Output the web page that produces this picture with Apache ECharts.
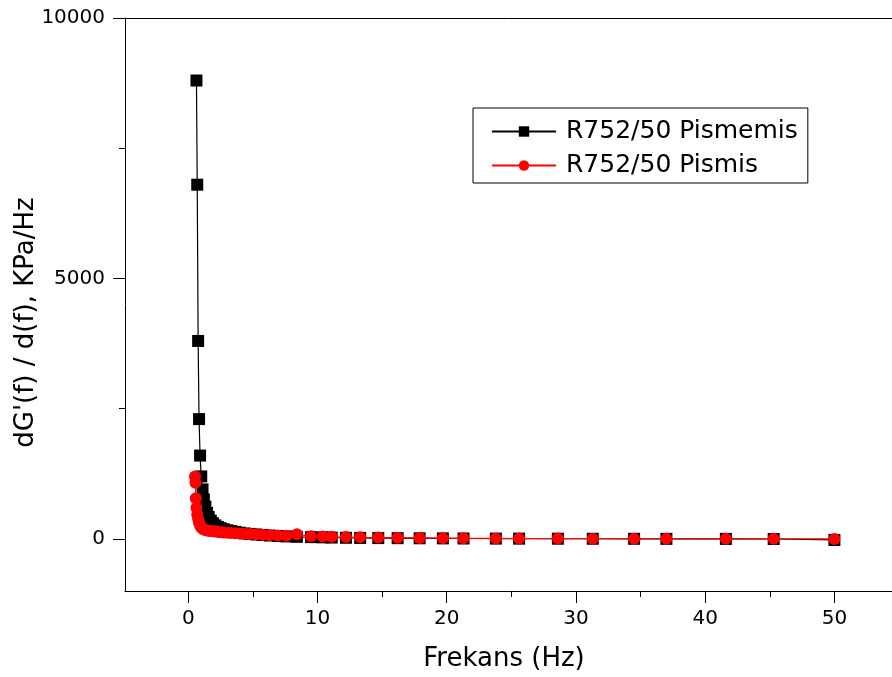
<!DOCTYPE html>
<html>
<head>
<meta charset="utf-8">
<script src="https://cdn.jsdelivr.net/npm/echarts@6/dist/echarts.min.js"></script>
<style>html,body{margin:0;padding:0;background:#fff}#c{width:892px;height:677px}</style>
</head>
<body>
<div id="c"></div>
<script>
// Frequencies (Hz) and dG'(f)/d(f) values
const freqPismemis = [0.63, 0.69, 0.76, 0.83, 0.91, 1.0, 1.1, 1.2, 1.32, 1.45, 1.58, 1.74, 1.91, 2.09, 2.29, 2.51, 2.75, 3.02, 3.31, 3.63, 3.98, 4.37, 4.79, 5.25, 5.75, 6.31, 6.92, 7.59, 8.4, 9.5, 10.4, 11.1, 12.2, 13.3, 14.7, 16.2, 17.9, 19.7, 21.3, 23.8, 25.6, 28.6, 31.3, 34.5, 37.0, 41.6, 45.3, 50.0];
const valPismemis = [8800, 6800, 3800, 2300, 1600, 1200, 950, 760, 620, 500, 420, 350, 300, 260, 230, 205, 185, 165, 150, 135, 120, 105, 95, 85, 75, 65, 55, 48, 40, 34, 30, 26, 22, 19, 16, 14, 12, 10, 8, 6, 5, 4, 3, 2, 1, 0, -2, -20];
const freqPismis = [0.52, 0.55, 0.58, 0.63, 0.69, 0.76, 0.83, 0.91, 1.0, 1.1, 1.2, 1.32, 1.45, 1.58, 1.74, 1.91, 2.09, 2.29, 2.51, 2.75, 3.02, 3.31, 3.63, 3.98, 4.37, 4.79, 5.25, 5.75, 6.31, 6.92, 7.59, 8.4, 9.5, 10.4, 11.1, 12.2, 13.3, 14.7, 16.2, 17.9, 19.7, 21.3, 23.8, 25.6, 28.6, 31.3, 34.5, 37.0, 41.6, 45.3, 50.0];
const valPismis = [1200, 1080, 780, 600, 470, 380, 310, 260, 220, 195, 180, 170, 160, 155, 150, 145, 140, 135, 130, 125, 120, 115, 110, 105, 100, 95, 88, 80, 72, 66, 60, 90, 50, 45, 40, 35, 30, 26, 22, 18, 15, 12, 10, 8, 6, 5, 4, 3, 2, 1, 0];
const xMajorTicks = [0, 10, 20, 30, 40, 50];
const xMinorTicks = [5, 15, 25, 35, 45];
const yMajorTicks = [0, 5000, 10000];
const yMinorTicks = [2500, 7500];
const seriesNames = ['R752/50 Pismemis', 'R752/50 Pismis'];

const FONT = 'DejaVu Sans';
const X_MIN = -4.9, X_MAX = 55, Y_MIN = -1000, Y_MAX = 10000;

function pairs(xs, ys) { return xs.map((x, i) => [x, ys[i]]); }
const plain = v => String(v);

const chart = echarts.init(document.getElementById('c'), null, { renderer: 'canvas' });
chart.setOption({
  animation: false,
  backgroundColor: '#fff',
  grid: { left: 125, right: -7, top: 18, bottom: 86, show: false, containLabel: false, outerBoundsMode: 'none' },
  legend: {
    orient: 'vertical', left: 473, top: 108,
    padding: [11, 10, 5, 18], itemGap: 9,
    borderColor: '#000', borderWidth: 1,
    itemWidth: 64, itemHeight: 13,
    textStyle: { fontFamily: FONT, fontSize: 25, color: '#000', padding: [0, 0, 0, 5] },
    data: seriesNames
  },
  xAxis: [
    {
      type: 'value', min: X_MIN, max: X_MAX, position: 'bottom',
      name: 'Frekans (Hz)', nameLocation: 'middle', nameGap: 55,
      nameTextStyle: { fontFamily: FONT, fontSize: 26, color: '#000', padding: [0, 16, 0, 0] },
      axisLine: { show: true, onZero: false, lineStyle: { color: '#000', width: 1 } },
      axisTick: { show: true, inside: false, length: 12, customValues: xMajorTicks, lineStyle: { color: '#000', width: 1 } },
      axisLabel: { fontFamily: FONT, color: '#000', fontSize: 20, margin: 18, customValues: xMajorTicks, formatter: plain },
      splitLine: { show: false }
    },
    {
      type: 'value', min: X_MIN, max: X_MAX, position: 'bottom', offset: 0,
      axisLine: { show: false, onZero: false },
      axisTick: { show: true, inside: false, length: 6, customValues: xMinorTicks, lineStyle: { color: '#000', width: 1 } },
      axisLabel: { show: false },
      splitLine: { show: false }
    },
    {
      type: 'value', min: X_MIN, max: X_MAX, position: 'top', offset: 0,
      axisLine: { show: true, onZero: false, lineStyle: { color: '#000', width: 1 } },
      axisTick: { show: false },
      axisLabel: { show: false },
      splitLine: { show: false }
    }
  ],
  yAxis: [
    {
      type: 'value', min: Y_MIN, max: Y_MAX, position: 'left',
      name: "dG'(f) / d(f), KPa/Hz", nameLocation: 'middle', nameGap: 86, nameRotate: 90,
      nameMoveOverlap: false,
      nameTextStyle: { fontFamily: FONT, fontSize: 26, color: '#000', padding: [0, 36, 0, 0] },
      axisLine: { show: true, onZero: false, lineStyle: { color: '#000', width: 1 } },
      axisTick: { show: true, inside: false, length: 12, customValues: yMajorTicks, lineStyle: { color: '#000', width: 1 } },
      axisLabel: { fontFamily: FONT, color: '#000', fontSize: 20, margin: 20, customValues: yMajorTicks, formatter: plain },
      splitLine: { show: false }
    },
    {
      type: 'value', min: Y_MIN, max: Y_MAX, position: 'left', offset: 0,
      axisLine: { show: false, onZero: false },
      axisTick: { show: true, inside: false, length: 6, customValues: yMinorTicks, lineStyle: { color: '#000', width: 1 } },
      axisLabel: { show: false },
      splitLine: { show: false }
    }
  ],
  series: [
    {
      name: seriesNames[0], type: 'line', xAxisIndex: 0, yAxisIndex: 0,
      data: pairs(freqPismemis, valPismemis),
      symbol: 'rect', symbolSize: 12,
      itemStyle: { color: '#000' },
      lineStyle: { color: '#000', width: 1.2 },
      z: 2
    },
    {
      name: seriesNames[1], type: 'line', xAxisIndex: 0, yAxisIndex: 0,
      data: pairs(freqPismis, valPismis),
      symbol: 'circle', symbolSize: 12,
      itemStyle: { color: '#ff0000' },
      lineStyle: { color: '#ff0000', width: 1.2 },
      z: 3
    }
  ]
});
</script>
</body>
</html>
